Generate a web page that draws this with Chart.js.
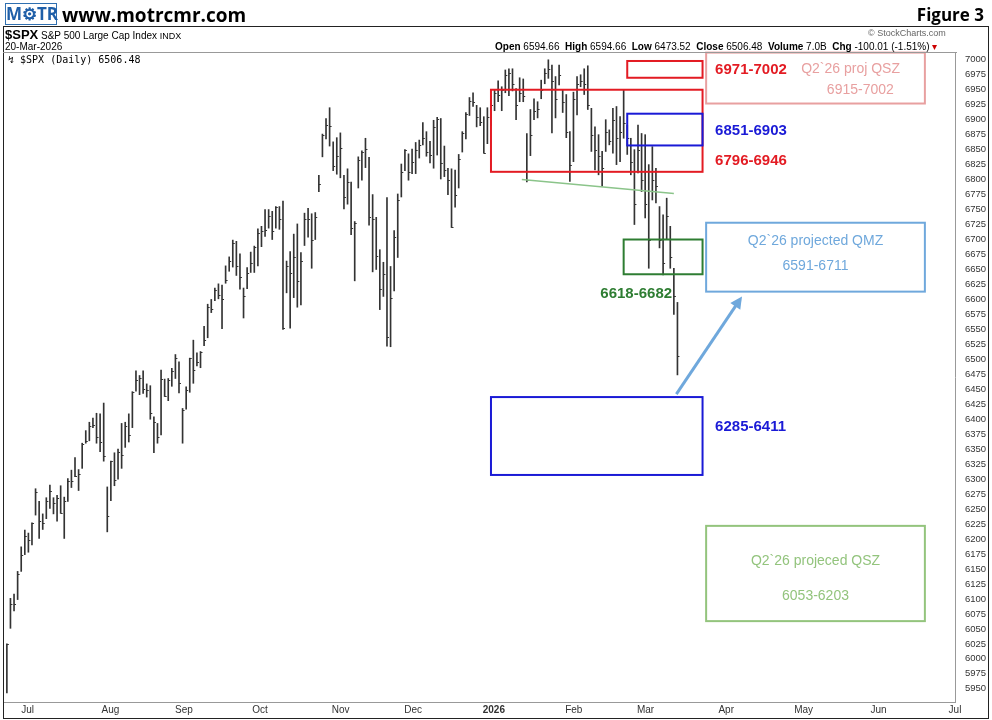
<!DOCTYPE html>
<html>
<head>
<meta charset="utf-8">
<script src="https://cdn.jsdelivr.net/npm/chart.js@4.4.1/dist/chart.umd.min.js"></script>
<style>
  body { margin: 0; background: #fff; font-family: "Liberation Sans", Arial, sans-serif; }
  #wrap { position: relative; width: 992px; height: 720px; overflow: hidden; }
  #c { position: absolute; left: 0; top: 0; }
  .t { position: absolute; white-space: nowrap; color: #000; }
  #frame { position: absolute; left: 3px; top: 26px; width: 984px; height: 691px; border: 1.5px solid #222; pointer-events: none; }
  #sep { position: absolute; left: 3px; top: 52px; width: 954px; height: 0; border-top: 1px solid #999; }
</style>
</head>
<body>
<div id="wrap">
  <canvas id="c" width="992" height="720"></canvas>
  <div id="frame"></div>
  <div id="sep"></div>
  <div class="t" style="left:5px;top:3px;height:20px;width:50px;border:1.5px solid #2f6fb0;color:#1f5fa8;font:bold 17px 'Open Sans';line-height:20px;text-align:center;">M⚙TR</div>
  <div class="t" style="left:62px;top:2px;font:bold 19px 'Open Sans';">www.motrcmr.com</div>
  <div class="t" style="right:8px;top:3px;font:bold 17px 'Open Sans';">Figure 3</div>
  <div class="t" style="left:5px;top:27px;font-size:10px;"><b style="font-size:13px">$SPX</b> S&amp;P 500 Large Cap Index <span style="font-size:9px">INDX</span></div>
  <div class="t" style="left:5px;top:41px;font-size:10px;">20-Mar-2026</div>
  <div class="t" style="left:495px;top:41px;font-size:10px;"><b>Open</b> 6594.66 &nbsp;<b>High</b> 6594.66 &nbsp;<b>Low</b> 6473.52 &nbsp;<b>Close</b> 6506.48 &nbsp;<b>Volume</b> 7.0B &nbsp;<b>Chg</b> -100.01 (-1.51%) <span style="color:#c00">▾</span></div>
  <div class="t" style="left:868px;top:28px;font-size:9px;color:#666;">© StockCharts.com</div>
  <div class="t" style="left:8px;top:54px;font:10px 'DejaVu Sans Mono';">↯ $SPX (Daily) 6506.48</div>
</div>
<script>
// daily bars, Jun 23 2025 .. Mar 20 2026
const highs = [
  6025, 6101, 6108, 6146, 6187, 6215,
  6210, 6227, 6284, 6263, 6242, 6269, 6290, 6269, 6273, 6289, 6270, 6301, 6315, 6336, 6316, 6360, 6381, 6395, 6402, 6410, 6409, 6427,
  6287, 6330, 6344, 6350, 6393, 6395, 6409, 6446, 6481, 6473, 6481, 6459, 6456, 6404, 6393, 6482, 6467, 6468, 6485, 6508, 6496,
  6418, 6454, 6502, 6532, 6511, 6513, 6555, 6592, 6600, 6619, 6626, 6624, 6656, 6671, 6699, 6697, 6676, 6619, 6653, 6679, 6689,
  6718, 6722, 6750, 6750, 6747, 6755, 6755, 6764, 6664, 6680, 6709, 6726, 6678, 6744, 6752, 6743, 6745, 6807, 6876, 6902, 6920, 6863, 6870,
  6878, 6807, 6818, 6796, 6730, 6838, 6848, 6869, 6837, 6775, 6737, 6683, 6662, 6770, 6655, 6715, 6776, 6826, 6850,
  6843, 6851, 6862, 6866, 6895, 6880, 6864, 6899, 6904, 6902, 6856, 6819, 6818, 6816, 6842, 6880, 6912, 6937, 6945, 6924, 6920, 6905,
  6920, 6940, 6950, 6965, 6955, 6983, 6985, 6985, 6952, 6970, 6968, 6877, 6917, 6935, 6930, 6966, 6985, 7000, 6991, 6972,
  6991, 6950, 6942, 6880, 6946, 6972, 6975, 6985, 6990, 6919, 6888, 6875, 6847, 6900, 6883, 6919, 6922, 6905, 6950,
  6891, 6869, 6850, 6891, 6877, 6875, 6825, 6855, 6819, 6755, 6741, 6769, 6722, 6652, 6595
];
const lows = [
  5943, 6051, 6080, 6099, 6146, 6174,
  6178, 6190, 6240, 6201, 6216, 6234, 6251, 6242, 6230, 6243, 6201, 6263, 6286, 6304, 6281, 6318, 6360, 6364, 6386, 6360, 6346, 6330,
  6212, 6264, 6289, 6300, 6318, 6353, 6362, 6386, 6447, 6441, 6443, 6437, 6400, 6344, 6360, 6374, 6438, 6431, 6455, 6468, 6444,
  6360, 6417, 6445, 6460, 6489, 6486, 6523, 6536, 6578, 6598, 6601, 6551, 6627, 6647, 6654, 6640, 6617, 6569, 6618, 6645, 6645,
  6656, 6688, 6705, 6719, 6700, 6719, 6717, 6550, 6611, 6552, 6603, 6587, 6591, 6690, 6704, 6652, 6700, 6780, 6838, 6868, 6856, 6815, 6809,
  6803, 6751, 6759, 6708, 6631, 6786, 6799, 6820, 6724, 6646, 6650, 6583, 6605, 6522, 6521, 6614, 6670, 6771, 6815,
  6799, 6810, 6810, 6836, 6858, 6839, 6828, 6819, 6841, 6801, 6805, 6775, 6720, 6754, 6786, 6846, 6868, 6907, 6922, 6888, 6890, 6844,
  6860, 6890, 6915, 6930, 6915, 6945, 6940, 6948, 6900, 6930, 6930, 6796, 6840, 6900, 6903, 6935, 6960, 6969, 6878, 6903,
  6958, 6912, 6870, 6797, 6830, 6908, 6955, 6942, 6917, 6847, 6816, 6808, 6789, 6847, 6858, 6844, 6825, 6830, 6869,
  6842, 6808, 6725, 6811, 6780, 6736, 6652, 6766, 6761, 6686, 6641, 6700, 6652, 6575, 6474
];
const closes = [
  6025, 6092, 6092, 6141, 6173, 6205,
  6198, 6227, 6279, 6230, 6226, 6263, 6280, 6260, 6269, 6244, 6264, 6297, 6297, 6306, 6309, 6359, 6363, 6389, 6390, 6371, 6362, 6339,
  6238, 6330, 6299, 6345, 6340, 6389, 6374, 6446, 6466, 6469, 6450, 6449, 6411, 6396, 6370, 6467, 6439, 6466, 6481, 6502, 6460,
  6416, 6448, 6502, 6482, 6495, 6512, 6532, 6588, 6584, 6615, 6607, 6600, 6632, 6664, 6694, 6656, 6638, 6605, 6644, 6661, 6688,
  6711, 6715, 6716, 6740, 6714, 6754, 6735, 6553, 6655, 6644, 6671, 6630, 6664, 6735, 6735, 6699, 6738, 6792, 6875, 6891, 6890, 6822, 6840,
  6852, 6771, 6796, 6720, 6728, 6832, 6846, 6851, 6737, 6734, 6672, 6617, 6642, 6538, 6603, 6705, 6766, 6813, 6849,
  6812, 6829, 6850, 6857, 6870, 6846, 6841, 6887, 6901, 6827, 6816, 6800, 6721, 6775, 6834, 6878, 6910, 6932, 6930, 6905, 6896, 6845,
  6905, 6925, 6945, 6942, 6950, 6975, 6978, 6960, 6925, 6945, 6940, 6800, 6875, 6915, 6918, 6950, 6978, 6985, 6965, 6935,
  6975, 6930, 6880, 6825, 6935, 6960, 6965, 6960, 6925, 6875, 6850, 6840, 6820, 6880, 6865, 6900, 6870, 6880, 6895,
  6870, 6830, 6760, 6850, 6800, 6760, 6700, 6800, 6790, 6700, 6660, 6740, 6670, 6606, 6506
];

// x-axis labels (positions in bar index units)
const monthLabels = ['Jul', 'Aug', 'Sep', 'Oct', 'Nov', 'Dec', '2026', 'Feb', 'Mar', 'Apr', 'May', 'Jun', 'Jul'];
const monthPos = [5.8, 28.9, 49.4, 70.6, 93.1, 113.3, 135.8, 158.1, 178.1, 200.6, 222.2, 243.1, 264.4];
const priceTicks = [];
for (let v = 5950; v <= 7000; v += 25) priceTicks.push(v);

// annotation boxes: [x0, x1, yLow, yHigh, colour]
const boxes = [
  [173, 194, 6970, 6998, '#e31b23'],
  [135, 194, 6813, 6950, '#e31b23'],
  [173, 194, 6857, 6910, '#1a1ad6'],
  [172, 194, 6642, 6700, '#2e7d32'],
  [135, 194, 6307, 6437, '#1a1ad6'],
  [195, 256, 6613, 6728, '#6fa8dc'],
  [195, 256, 6927, 7012, '#e8a0a0'],
  [195, 256, 6063, 6222, '#93c47d']
];
// [x, y, text, colour, align]
const notes = [
  [197.5, 6984, '6971-7002', '#e31b23', 'left'],
  [197.5, 6882, '6851-6903', '#1a1ad6', 'left'],
  [197.5, 6832, '6796-6946', '#e31b23', 'left'],
  [175.5, 6610, '6618-6682', '#2e7d32', 'center'],
  [197.5, 6387, '6285-6411', '#1a1ad6', 'left'],
  [221.5, 6984, 'Q2`26 proj QSZ', '#e8a0a0', 'left'],
  [238, 6950, '6915-7002', '#e8a0a0', 'center'],
  [225.5, 6697, 'Q2`26 projected QMZ', '#6fa8dc', 'center'],
  [225.5, 6655, '6591-6711', '#6fa8dc', 'center'],
  [225.5, 6163, 'Q2`26 projeced QSZ', '#93c47d', 'center'],
  [225.5, 6105, '6053-6203', '#93c47d', 'center']
];
const trendLine = [[143.6, 6800], [186, 6777]];
const arrow = [[186.7, 6442], [205, 6605]];

const idx = closes.map((_, i) => i);

const overlay = {
  id: 'overlay',
  afterDatasetsDraw(chart) {
    const { ctx, chartArea, scales: { x, y } } = chart;
    ctx.save();
    // close ticks
    ctx.strokeStyle = '#333';
    ctx.lineWidth = 1;
    closes.forEach((c, i) => {
      const px = x.getPixelForValue(i), py = Math.round(y.getPixelForValue(c)) + 0.5;
      ctx.beginPath(); ctx.moveTo(px, py); ctx.lineTo(px + 2, py); ctx.stroke();
    });
    // boxes
    ctx.lineWidth = 2;
    boxes.forEach(([x0, x1, lo, hi, col]) => {
      const l = x.getPixelForValue(x0), r = x.getPixelForValue(x1);
      const t = y.getPixelForValue(hi), b = y.getPixelForValue(lo);
      ctx.strokeStyle = col;
      ctx.strokeRect(l, t, r - l, b - t);
    });
    // trend line
    ctx.strokeStyle = '#8bc48a';
    ctx.lineWidth = 1.5;
    ctx.beginPath();
    ctx.moveTo(x.getPixelForValue(trendLine[0][0]), y.getPixelForValue(trendLine[0][1]));
    ctx.lineTo(x.getPixelForValue(trendLine[1][0]), y.getPixelForValue(trendLine[1][1]));
    ctx.stroke();
    // arrow
    const ax0 = x.getPixelForValue(arrow[0][0]), ay0 = y.getPixelForValue(arrow[0][1]);
    const ax1 = x.getPixelForValue(arrow[1][0]), ay1 = y.getPixelForValue(arrow[1][1]);
    const ang = Math.atan2(ay1 - ay0, ax1 - ax0);
    ctx.strokeStyle = '#6fa8dc';
    ctx.fillStyle = '#6fa8dc';
    ctx.lineWidth = 3;
    ctx.beginPath();
    ctx.moveTo(ax0, ay0);
    ctx.lineTo(ax1 - 8 * Math.cos(ang), ay1 - 8 * Math.sin(ang));
    ctx.stroke();
    ctx.beginPath();
    ctx.moveTo(ax1, ay1);
    ctx.lineTo(ax1 - 12 * Math.cos(ang) + 6 * Math.sin(ang), ay1 - 12 * Math.sin(ang) - 6 * Math.cos(ang));
    ctx.lineTo(ax1 - 12 * Math.cos(ang) - 6 * Math.sin(ang), ay1 - 12 * Math.sin(ang) + 6 * Math.cos(ang));
    ctx.closePath();
    ctx.fill();
    // texts
    ctx.textBaseline = 'middle';
    notes.forEach(([nx, ny, txt, col, al]) => {
      ctx.font = (col === '#e31b23' || col === '#1a1ad6' || col === '#2e7d32') ? 'bold 15px "Liberation Sans"' : '14px "Liberation Sans"';
      ctx.fillStyle = col;
      ctx.textAlign = al;
      ctx.fillText(txt, x.getPixelForValue(nx), y.getPixelForValue(ny));
    });
    // month labels
    ctx.fillStyle = '#333';
    ctx.textAlign = 'center';
    monthLabels.forEach((m, i) => {
      ctx.font = (i === 6 ? 'bold ' : '') + '10px "Liberation Sans"';
      ctx.fillText(m, x.getPixelForValue(monthPos[i]), chartArea.bottom + 8);
    });
    ctx.restore();
  }
};

new Chart(document.getElementById('c'), {
  type: 'bar',
  data: {
    labels: idx,
    datasets: [{
      data: idx.map(i => ({ x: i, y: [lows[i], highs[i]] })),
      backgroundColor: '#333',
      barThickness: 1
    }]
  },
  options: {
    responsive: false,
    animation: false,
    layout: { padding: { top: 52, left: 4, right: 4, bottom: 0 } },
    plugins: { legend: { display: false }, tooltip: { enabled: false } },
    scales: {
      x: {
        type: 'linear',
        offset: false,
        min: -0.8,
        max: 264.4,
        grid: { display: false },
        border: { color: '#999' },
        afterFit: s => { s.height = 18; },
        afterBuildTicks: s => { s.ticks = monthPos.map(v => ({ value: v })); },
        ticks: { display: false }
      },
      y: {
        position: 'right',
        min: 5928,
        max: 7013,
        grid: { display: false },
        border: { color: '#999' },
        afterFit: s => { s.width = 33; },
        afterBuildTicks: s => { s.ticks = priceTicks.map(v => ({ value: v })); },
        ticks: { padding: 2, color: '#333', font: { size: 9.5, family: 'Liberation Sans' }, callback: v => String(v) }
      }
    }
  },
  plugins: [overlay]
});
</script>
</body>
</html>
